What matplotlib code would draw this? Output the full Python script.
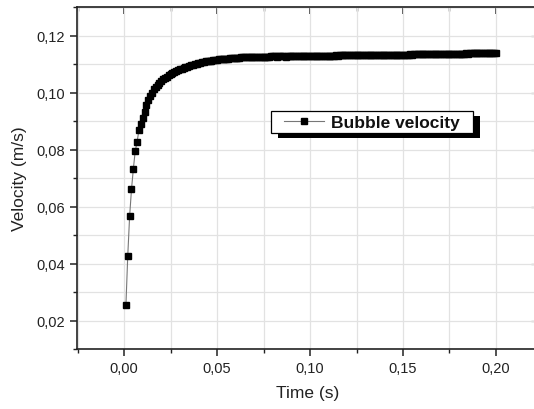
import numpy as np
import matplotlib
matplotlib.use('Agg')
import matplotlib.pyplot as plt
from matplotlib.ticker import MultipleLocator, FuncFormatter
from matplotlib.patches import Rectangle

plt.rcParams['font.family'] = ['Liberation Sans', 'DejaVu Sans']

# time step of 1 ms, 200 samples
time_s = np.arange(1, 201) * 0.001

velocity = [
    0.0253, 0.0428, 0.0566, 0.0660, 0.0732, 0.0794, 0.0826, 0.0868, 0.0888, 0.0910,
    0.0930, 0.0955, 0.0972, 0.0988, 0.1000, 0.1011, 0.1019, 0.1026, 0.1033, 0.1040,
    0.1046, 0.1051, 0.1056, 0.1060, 0.1064, 0.1068, 0.1072, 0.1075, 0.1078, 0.1081,
    0.1084, 0.1087, 0.1089, 0.1091, 0.1093, 0.1095, 0.1097, 0.1099, 0.1101, 0.1103,
    0.1105, 0.1106, 0.1108, 0.1109, 0.1110, 0.1111, 0.1112, 0.1113, 0.1114, 0.1115,
    0.1116, 0.1117, 0.1117, 0.1118, 0.1119, 0.1119, 0.1120, 0.1120, 0.1121, 0.1121,
    0.1122, 0.1122, 0.1123, 0.1123, 0.1123, 0.1124, 0.1124, 0.1124, 0.1125, 0.1125,
    0.1125, 0.1125, 0.1126, 0.1126, 0.1126, 0.1126, 0.1126, 0.1126, 0.1127, 0.1127,
    0.1127, 0.1126, 0.1127, 0.1127, 0.1127, 0.1127, 0.1126, 0.1127, 0.1127, 0.1127,
    0.1127, 0.1127, 0.1128, 0.1127, 0.1127, 0.1128, 0.1127, 0.1128, 0.1128, 0.1127,
    0.1128, 0.1128, 0.1128, 0.1128, 0.1129, 0.1128, 0.1128, 0.1129, 0.1129, 0.1129,
    0.1129, 0.1129, 0.1129, 0.1130, 0.1129, 0.1130, 0.1130, 0.1130, 0.1130, 0.1130,
    0.1130, 0.1130, 0.1131, 0.1130, 0.1131, 0.1131, 0.1131, 0.1131, 0.1131, 0.1131,
    0.1131, 0.1131, 0.1132, 0.1131, 0.1132, 0.1132, 0.1132, 0.1132, 0.1132, 0.1132,
    0.1132, 0.1132, 0.1133, 0.1132, 0.1133, 0.1133, 0.1133, 0.1133, 0.1133, 0.1133,
    0.1133, 0.1133, 0.1133, 0.1134, 0.1133, 0.1134, 0.1134, 0.1134, 0.1134, 0.1134,
    0.1134, 0.1134, 0.1134, 0.1135, 0.1134, 0.1135, 0.1135, 0.1135, 0.1135, 0.1135,
    0.1135, 0.1135, 0.1135, 0.1136, 0.1135, 0.1136, 0.1136, 0.1136, 0.1136, 0.1136,
    0.1136, 0.1136, 0.1136, 0.1137, 0.1136, 0.1137, 0.1137, 0.1137, 0.1137, 0.1137,
    0.1137, 0.1137, 0.1137, 0.1137, 0.1137, 0.1138, 0.1137, 0.1138, 0.1137, 0.1138,
]

series_label = 'Bubble velocity'
text_col = '#222222'

fig = plt.figure(figsize=(5.34, 4.10), dpi=100)
ax = fig.add_axes([77/534, 60/410, 461/534, 342/410])

ax.plot(time_s, velocity, color='#777777', lw=0.8, marker='s', ms=4.5,
        mfc='black', mec='black', label=series_label)

ax.set_xlim(-0.0253, 0.2226)
ax.set_ylim(0.01, 0.13)

ax.xaxis.set_major_locator(MultipleLocator(0.05))
ax.xaxis.set_minor_locator(MultipleLocator(0.025))
ax.yaxis.set_major_locator(MultipleLocator(0.02))
ax.yaxis.set_minor_locator(MultipleLocator(0.01))

comma = lambda v, p: ('%.2f' % v).replace('.', ',')
ax.xaxis.set_major_formatter(FuncFormatter(comma))
ax.yaxis.set_major_formatter(FuncFormatter(comma))

ax.grid(True, which='both', color='#e2e2e2', lw=0.9)
ax.set_axisbelow(True)

for s in ax.spines.values():
    s.set_linewidth(1.2)
    s.set_color('#222222')
ax.spines['right'].set_visible(False)

ax.tick_params(which='both', direction='out', top=False, right=False,
               colors='#222222', labelsize=10.5, labelcolor=text_col)
ax.tick_params(which='major', length=5, width=1.1)
ax.tick_params(which='minor', length=3, width=1.0)

# inward ticks mirrored on top/right spines
axt = ax.secondary_xaxis('top')
axt.xaxis.set_major_locator(MultipleLocator(0.05))
axt.xaxis.set_minor_locator(MultipleLocator(0.025))
axt.tick_params(which='both', direction='in', labeltop=False, colors='#222222')
axt.tick_params(which='major', length=5, width=1.1)
axt.tick_params(which='minor', length=3, width=1.0)
axr = ax.secondary_yaxis('right')
axr.spines['right'].set_visible(False)
axr.yaxis.set_major_locator(MultipleLocator(0.02))
axr.yaxis.set_minor_locator(MultipleLocator(0.01))
axr.tick_params(which='both', direction='in', labelright=False, colors='#aaaaaa')
axr.tick_params(which='major', length=5, width=1.0)
axr.tick_params(which='minor', length=3, width=1.0)

ax.set_xlabel('Time (s)', fontsize=12.5, color=text_col, labelpad=7)
ax.set_ylabel('Velocity (m/s)', fontsize=12.5, color=text_col, labelpad=7)

leg = ax.legend(loc='center', bbox_to_anchor=(372/534, 1 - 123/410),
                bbox_transform=fig.transFigure, frameon=False,
                handlelength=2.3, handletextpad=0.45,
                borderpad=0.2, prop={'weight': 'bold', 'size': 12.5})
for t in leg.get_texts():
    t.set_color('#111111')
leg.set_zorder(10)

# Origin-style legend frame with a solid offset shadow
fig.canvas.draw()
bb = leg.get_window_extent()
pad_x = 9
pad_y = 11 - bb.height / 2
x0, y0 = bb.x0 - pad_x, bb.y0 - pad_y
w, h = bb.width + 2 * pad_x, bb.height + 2 * pad_y
ax.add_patch(Rectangle((x0 + 7, y0 - 5), w, h, transform=None,
                       facecolor='black', edgecolor='none', zorder=8))
ax.add_patch(Rectangle((x0, y0), w, h, transform=None, facecolor='white',
                       edgecolor='black', lw=0.9, zorder=9))

fig.savefig('out.png', dpi=100)
